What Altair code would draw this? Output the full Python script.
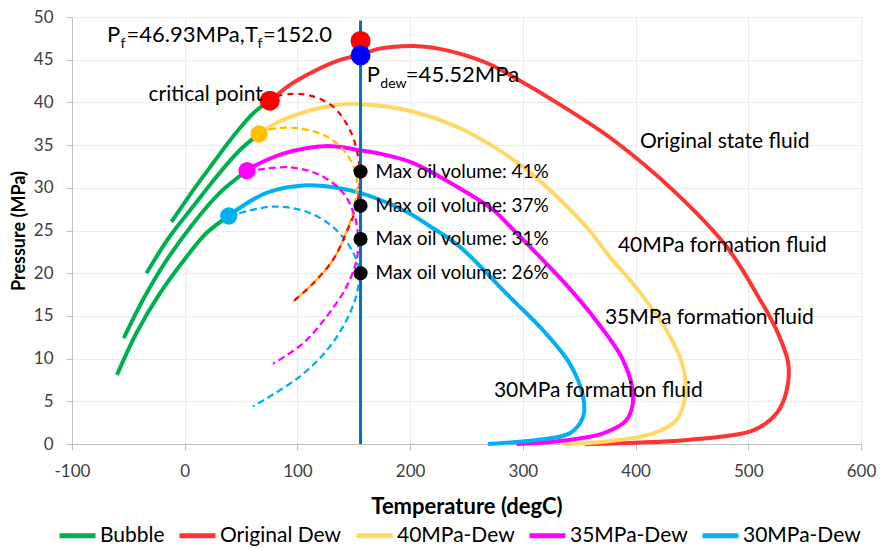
import altair as alt
import pandas as pd

# ---------------- data ----------------
series_names = ["Bubble", "Original Dew", "40MPa-Dew", "35MPa-Dew", "30MPa-Dew"]
series_colors = ["#00B050", "#FF3333", "#FFD966", "#FF00FF", "#00B0F0"]

# bubble-point curves (all drawn as "Bubble")
bub_orig_t = [-11.8, 7.4, 25.2, 42.9, 60.6, 75.5]
bub_orig_p = [26.0, 29.7, 32.9, 36.0, 38.7, 40.2]
bub_40_t = [-34.0, -13.3, 7.4, 28.2, 48.8, 66.0]
bub_40_p = [20.0, 24.3, 27.8, 31.3, 34.4, 36.3]
bub_35_t = [-54.1, -37.0, -16.2, 7.4, 31.1, 55.3]
bub_35_p = [12.4, 16.9, 21.5, 25.8, 29.4, 32.0]
bub_30_t = [-60.1, -42.8, -22.2, 1.5, 19.3, 39.1]
bub_30_p = [8.1, 13.0, 17.6, 21.9, 24.7, 26.7]

# dew-point curves
dew_orig_t = [75.5, 95, 116.9, 136, 156, 173.1, 202.7, 225, 247, 270, 291.4, 335.8, 380.2, 433.4,
              480.8, 510.4, 525.2, 535.5, 534.1, 525.2, 504.4, 445.3, 400, 355]
dew_orig_p = [40.2, 42.2, 43.8, 44.9, 45.6, 46.3, 46.6, 46.3, 45.6, 44.5, 43.0, 39.5, 35.6, 29.7,
              23.1, 16.9, 13.3, 9.4, 6.3, 3.6, 1.6, 0.47, 0.15, 0.0]
dew_40_t = [65.1, 80, 102.1, 125, 146.5, 173.1, 202.7, 247, 291.4, 321, 356.6, 377.2, 400,
            427.6, 442.3, 443.8, 436.4, 415.7, 371.3, 335]
dew_40_p = [36.2, 37.5, 38.7, 39.5, 39.8, 39.6, 38.9, 36.8, 33.3, 30.1, 25.4, 21.9, 18.4,
            13.3, 9.0, 5.5, 2.8, 1.25, 0.27, 0.0]
dew_35_t = [54.8, 87.3, 125.8, 155.4, 173.1, 202.7, 247, 273.7, 291.4, 318.1, 338.8, 362.4,
            389, 397.9, 392, 371.3, 327, 294.4]
dew_35_p = [32.1, 34.0, 34.9, 34.4, 34.0, 32.9, 29.7, 27.4, 25.1, 21.5, 18.6, 14.9,
            9.8, 5.5, 2.8, 1.25, 0.27, 0.0]
dew_30_t = [38.5, 72.5, 108, 135, 155.4, 173.1, 199.7, 217.5, 244.1, 288.5, 318, 341.7,
            353.5, 353.5, 341.7, 312.2, 269.2]
dew_30_p = [26.7, 29.4, 30.3, 30.0, 29.4, 28.6, 27.0, 25.5, 23.1, 17.2, 13.3, 9.4,
            5.5, 3.2, 1.25, 0.47, 0.0]

# dashed quality lines
q_orig_t = [75.5, 84.2, 99, 113.9, 131.7, 146.5, 153.9, 155.4, 152.4, 143.5, 131.7, 113.9, 96.2]
q_orig_p = [40.2, 40.8, 41.0, 40.7, 39.5, 36.8, 33.6, 30.9, 27.8, 24.8, 21.6, 18.8, 16.7]
q_40_t = [66.0, 74, 99.1, 125.8, 143.5, 152.4, 150.9, 143.5, 131.7, 113.9, 96.2]
q_40_p = [36.3, 36.8, 37.0, 36.0, 34.0, 31.3, 28.2, 24.8, 21.6, 18.8, 16.7]
q_35_t = [55.3, 63.6, 93.2, 119.8, 140.6, 150.9, 153.9, 152.4, 143.5, 125.8, 105, 78.4]
q_35_p = [32.0, 32.1, 32.4, 31.5, 29.4, 26.6, 23.9, 21.5, 18.4, 14.9, 11.8, 9.4]
q_30_t = [39.1, 47.3, 78.4, 108, 131.7, 146.5, 153.9, 153.9, 146.5, 128.7, 102.1, 60.6]
q_30_p = [26.7, 27.0, 27.8, 27.2, 25.4, 23.1, 20.8, 18.4, 15.3, 11.4, 7.9, 4.4]

# marked points
crit_t = [75.5, 66.0, 55.3, 39.1]
crit_p = [40.2, 36.3, 32.0, 26.7]
crit_kind = ["Original", "40MPa", "35MPa", "30MPa"]
t_f = 156.0
p_f_point = 47.2
p_dew_point = 45.5
max_oil_p = [31.9, 27.9, 24.0, 20.0]
max_oil_vol = [41, 37, 31, 26]
vline_p = [0.0, 49.6]

# annotation texts
pf_parts = ["P", "f", "=46.93MPa,", "T", "f", "=152.0"]
pdew_parts = ["P", "dew", "=45.52MPa"]
fluid_labels = ["Original state fluid", "40MPa formation fluid", "35MPa formation fluid", "30MPa formation fluid"]
fluid_t = [403.9, 384.3, 372.8, 274.3]
fluid_p = [35.4, 23.2, 14.7, 6.26]
crit_label = "critical point"

# ---------------- tables ----------------
def curve_rows(series, group, ts, ps):
    return [dict(series=series, group=group, T=t, P=p, i=i) for i, (t, p) in enumerate(zip(ts, ps))]

solid_rows = []
solid_rows += curve_rows("Bubble", "b1", bub_orig_t, bub_orig_p)
solid_rows += curve_rows("Bubble", "b2", bub_40_t, bub_40_p)
solid_rows += curve_rows("Bubble", "b3", bub_35_t, bub_35_p)
solid_rows += curve_rows("Bubble", "b4", bub_30_t, bub_30_p)
solid_rows += curve_rows("Original Dew", "d1", dew_orig_t, dew_orig_p)
solid_rows += curve_rows("40MPa-Dew", "d2", dew_40_t, dew_40_p)
solid_rows += curve_rows("35MPa-Dew", "d3", dew_35_t, dew_35_p)
solid_rows += curve_rows("30MPa-Dew", "d4", dew_30_t, dew_30_p)
solid_df = pd.DataFrame(solid_rows)

dash_colors = {"q1": "#FFC000", "q3": "#FF00FF", "q4": "#00B0F0"}
dash_rows = []
dash_rows += curve_rows("q", "q1", q_40_t, q_40_p)
dash_rows += curve_rows("q", "q3", q_35_t, q_35_p)
dash_rows += curve_rows("q", "q4", q_30_t, q_30_p)
dash_df = pd.DataFrame(dash_rows)
dash_df["col"] = dash_df["group"].map(dash_colors)
dash_red_df = pd.DataFrame(curve_rows("q", "q2", q_orig_t, q_orig_p))

crit_colors = {"Original": "#FF0000", "40MPa": "#FFC000", "35MPa": "#FF00FF", "30MPa": "#00B0F0"}
crit_df = pd.DataFrame({"T": crit_t, "P": crit_p, "kind": crit_kind})
crit_df["col"] = crit_df["kind"].map(crit_colors)

top_df = pd.DataFrame({"T": [t_f, t_f], "P": [p_f_point, p_dew_point], "col": ["#FF0000", "#0000FF"]})
max_df = pd.DataFrame({"T": [t_f] * len(max_oil_p), "P": max_oil_p,
                       "label": [f"Max oil volume: {v}%" for v in max_oil_vol]})
vline_df = pd.DataFrame({"T": [t_f], "P": [vline_p[0]], "P2": [vline_p[1]]})
fluid_df = pd.DataFrame({"T": fluid_t, "P": fluid_p, "label": fluid_labels})
crit_lab_df = pd.DataFrame({"T": [69.3], "P": [40.2], "label": [crit_label]})
pf_anchor = pd.DataFrame({"T": [-68.9], "P": [47.04]})
pdew_anchor = pd.DataFrame({"T": [161.6], "P": [42.4]})

FONT = "Lato"
xscale = alt.Scale(domain=[-100, 600], nice=False, zero=False)
yscale = alt.Scale(domain=[0, 50], nice=False)

X = alt.X("T:Q", scale=xscale,
          axis=alt.Axis(values=list(range(-100, 601, 100)), title="Temperature (degC)",
                        labelExpr="'' + datum.value", labelFlush=False,
                        titleFontSize=22, labelPadding=13, titlePadding=17))
Y = alt.Y("P:Q", scale=yscale,
          axis=alt.Axis(values=list(range(0, 51, 5)), title="Pressure (MPa)", labelFlush=False,
                        titleFontSize=18, labelPadding=13, titlePadding=5))

solid = alt.Chart(solid_df).mark_line(strokeWidth=4, interpolate="catmull-rom").encode(
    x=X, y=Y,
    color=alt.Color("series:N", scale=alt.Scale(domain=series_names, range=series_colors),
                    legend=alt.Legend(orient="none", legendX=-15, legendY=498, direction="horizontal",
                                      columns=5, title=None, symbolType="stroke", symbolStrokeWidth=5,
                                      symbolSize=1296, labelFontSize=21, labelFont=FONT,
                                      labelColor="#000000", labelOffset=2, columnPadding=4,
                                      padding=0, labelLimit=300)),
    detail="group:N",
    order="i:Q",
)

dashed = alt.Chart(dash_df).mark_line(strokeWidth=2.3, strokeDash=[7, 4], interpolate="catmull-rom").encode(
    x="T:Q", y="P:Q",
    color=alt.Color("col:N", scale=None),
    detail="group:N",
    order="i:Q",
)
dashed_red = alt.Chart(dash_red_df).mark_line(strokeWidth=2.3, strokeDash=[6, 5], strokeDashOffset=3,
                                              color="#FF0000", interpolate="catmull-rom").encode(
    x="T:Q", y="P:Q", order="i:Q")

vline = alt.Chart(vline_df).mark_rule(color="#0070C0", strokeWidth=3).encode(
    x="T:Q", y="P:Q", y2="P2:Q")

crit_pts = alt.Chart(crit_df).mark_circle(size=300, opacity=1).encode(
    x="T:Q", y="P:Q", color=alt.Color("col:N", scale=None))
crit_main = alt.Chart(crit_df.iloc[:1]).mark_circle(size=400, opacity=1).encode(
    x="T:Q", y="P:Q", color=alt.Color("col:N", scale=None))
top_pts = alt.Chart(top_df).mark_circle(size=400, opacity=1).encode(
    x="T:Q", y="P:Q", color=alt.Color("col:N", scale=None))
max_pts = alt.Chart(max_df).mark_circle(size=200, opacity=1, color="#000000").encode(x="T:Q", y="P:Q")
max_txt = alt.Chart(max_df).mark_text(align="left", baseline="middle", dx=15, fontSize=19, font=FONT,
                                      color="#000000").encode(x="T:Q", y="P:Q", text="label:N")
fluid_txt = alt.Chart(fluid_df).mark_text(align="left", baseline="middle", fontSize=21, font=FONT,
                                          color="#000000").encode(x="T:Q", y="P:Q", text="label:N")
crit_txt = alt.Chart(crit_lab_df).mark_text(align="right", baseline="alphabetic", fontSize=21, font=FONT,
                                            color="#000000").encode(x="T:Q", y="P:Q", text="label:N")

def piece(anchor, text, dx, sub=False):
    return alt.Chart(anchor).mark_text(align="left", baseline="alphabetic", dx=dx, dy=6 if sub else 0,
                                       fontSize=14 if sub else 22, font=FONT, color="#000000").encode(
        x="T:Q", y="P:Q", text=alt.value(text))

pf_dx = [0, 13.5, 19.5, 138, 150.5, 156]
pf_sub = [False, True, False, False, True, False]
pdew_dx = [0, 13.5, 39]
pdew_sub = [False, True, False]
pf_layers = [piece(pf_anchor, t, d, s) for t, d, s in zip(pf_parts, pf_dx, pf_sub)]
pdew_layers = [piece(pdew_anchor, t, d, s) for t, d, s in zip(pdew_parts, pdew_dx, pdew_sub)]

chart = alt.layer(
    solid, dashed, dashed_red, vline, crit_pts, crit_main, top_pts, max_pts, max_txt, fluid_txt, crit_txt,
    *pf_layers, *pdew_layers
).properties(
    width=789, height=427,
    autosize=alt.AutoSizeParams(type="none"),
    padding={"left": 64, "top": 9, "right": 19, "bottom": 112},
).configure(font=FONT).configure_view(
    stroke="#bfbfbf", strokeWidth=1
).configure_axis(
    gridColor="#ececec", gridWidth=1, domainColor="#bfbfbf", tickColor="#bfbfbf", tickSize=6,
    labelFont=FONT, labelFontSize=17, labelColor="#404040",
    titleFont=FONT, titleFontWeight="bold", titleColor="#000000",
)

chart.save("out.html", embed_options={"renderer": "svg", "actions": False})
